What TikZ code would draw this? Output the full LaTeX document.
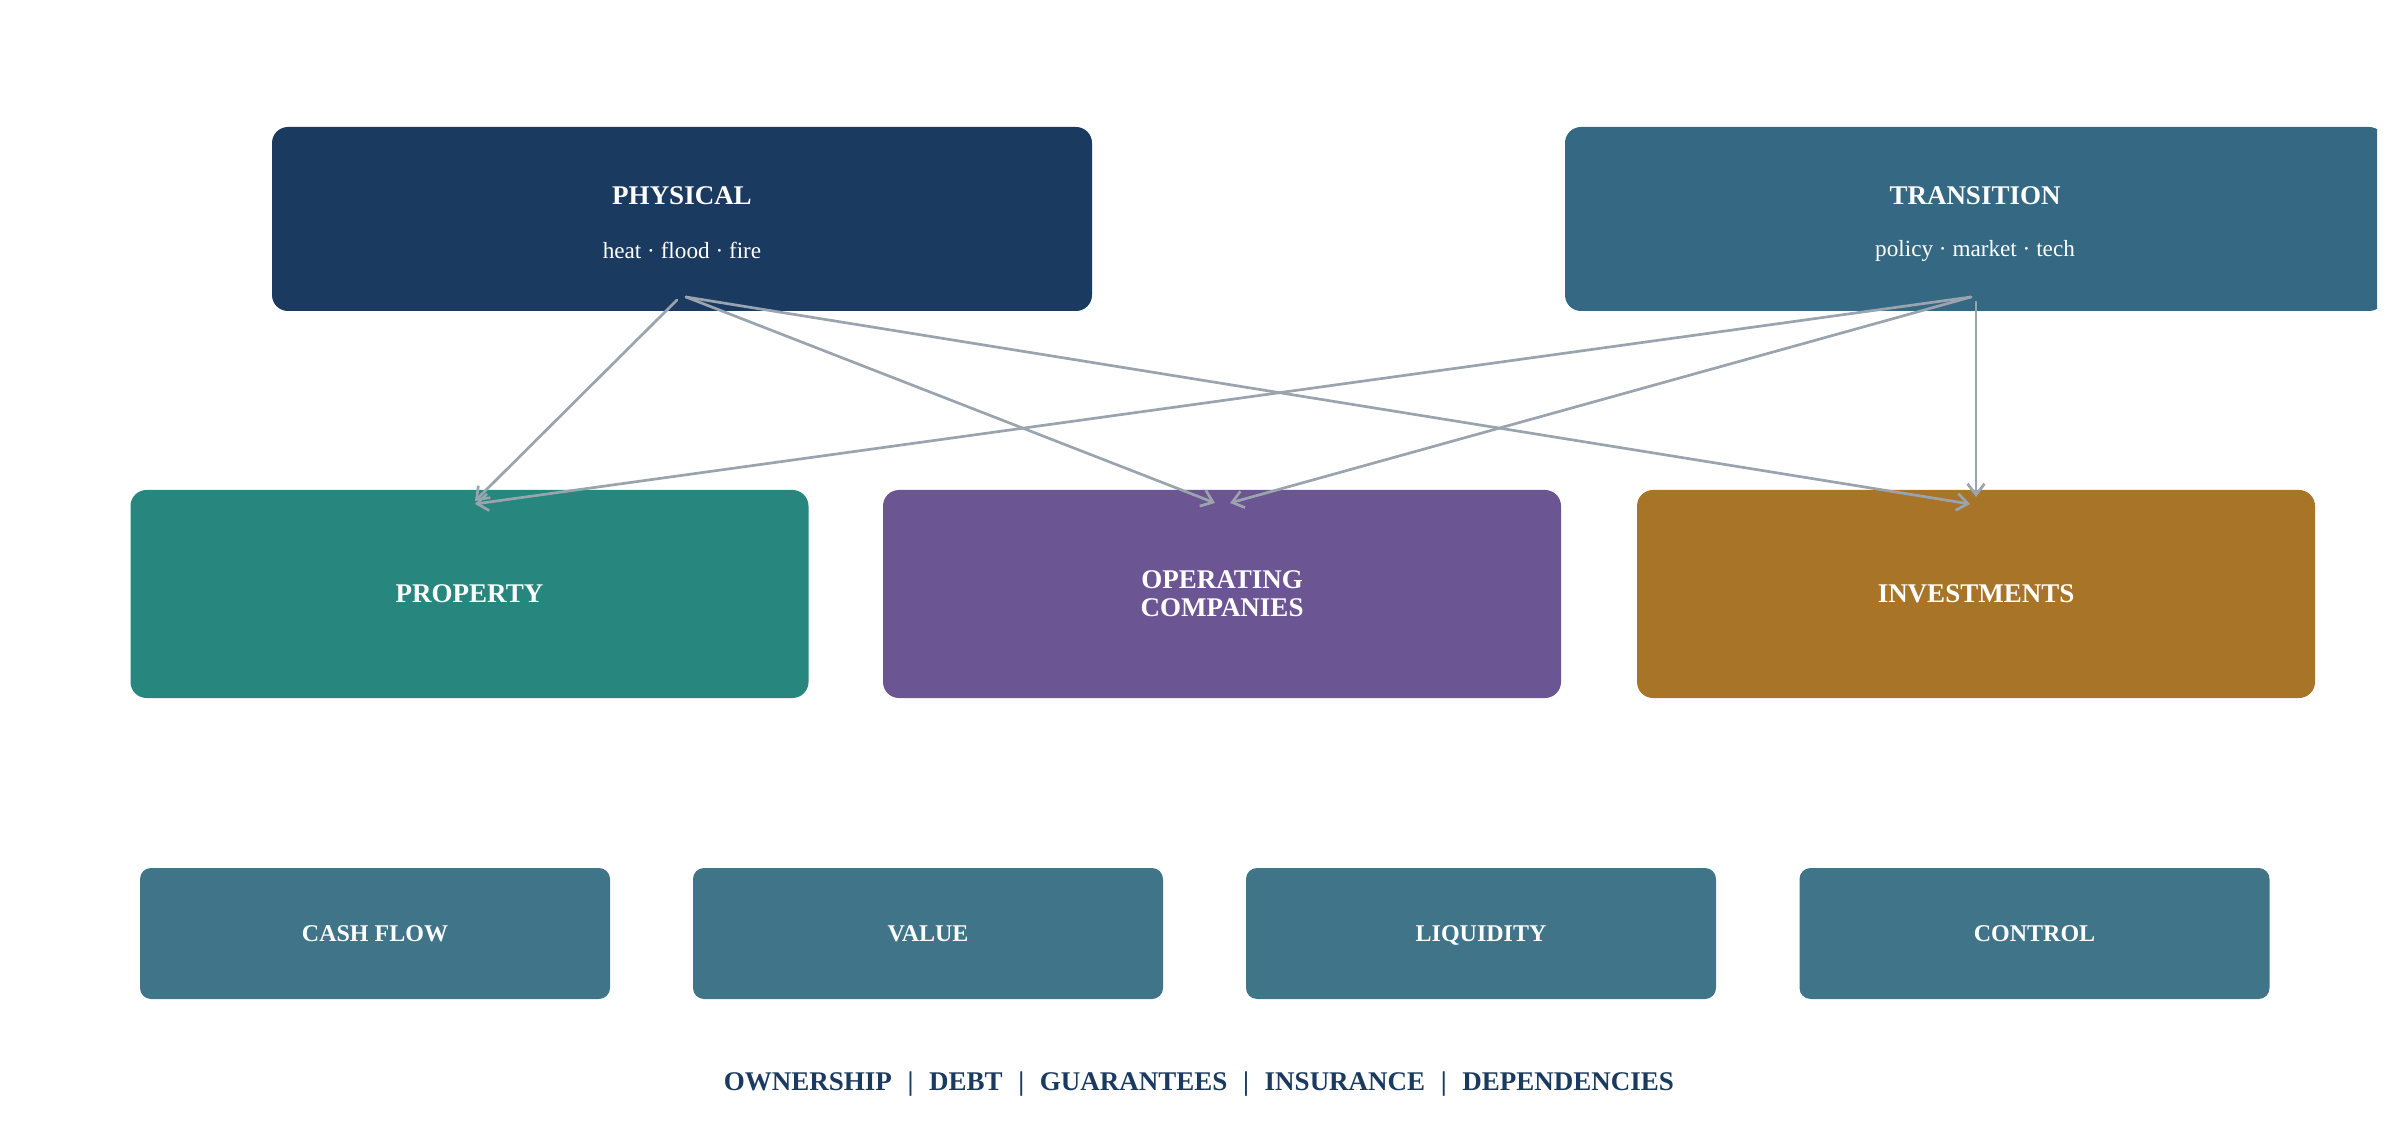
\documentclass[tikz,border=0pt]{standalone}
\usepackage{fontspec}
\setmainfont{Liberation Serif}
\usetikzlibrary{arrows.meta}
\definecolor{navy}{HTML}{1B3A5F}
\definecolor{transc}{HTML}{346883}
\definecolor{propc}{HTML}{27867D}
\definecolor{operc}{HTML}{6B5592}
\definecolor{invc}{HTML}{A77428}
\definecolor{botc}{HTML}{3F7489}
\definecolor{arrowc}{HTML}{9AA4AF}
\tikzset{
  topbox/.style={rounded corners=8pt, minimum width=410pt, minimum height=92pt, inner sep=0pt},
  midbox/.style={rounded corners=8pt, minimum width=339pt, minimum height=104pt, inner sep=0pt,
    text=white, font=\fontsize{13.5}{14}\selectfont\bfseries, align=center},
  botbox/.style={fill=botc, rounded corners=5.5pt, minimum width=235pt, minimum height=65.5pt, inner sep=0pt,
    text=white, font=\fontsize{12}{13}\selectfont\bfseries, text height=8pt, text depth=0pt},
  ttl/.style={text=white, font=\fontsize{13.5}{14}\selectfont\bfseries, inner sep=0pt},
  sub/.style={text=white, font=\fontsize{11.6}{13}\selectfont, inner sep=0pt},
  arr/.style={draw=arrowc, line width=1.35pt, line cap=round, -{Straight Barb[length=5.5pt,width=8.5pt,line width=1.35pt]}}
}
\newcommand{\sepbar}{\hspace{0.58em}|\hspace{0.58em}}
\begin{document}
\begin{tikzpicture}[x=0.5pt, y=-0.5pt]
\useasboundingbox (0,0) rectangle (2397,1143);
% top row
\node[topbox, fill=navy] (phys) at (682,219) {};
\node[ttl] (physT) at (682,195.5) {PHYSICAL};
\node[sub] (physS) at (682,250.5) {heat · flood · fire};
\begin{scope}
\clip (0,0) rectangle (2377,1143);
\node[topbox, fill=transc] (trans) at (1975,219) {};
\end{scope}
\node[ttl] (transT) at (1975,195.5) {TRANSITION};
\node[sub] (transS) at (1975,250.5) {policy · market · tech};
% middle row
\node[midbox, fill=propc] (prop) at (469.5,594) {PROPERTY};
\node[midbox, fill=operc] (oper) at (1222,594) {OPERATING\\COMPANIES};
\node[midbox, fill=invc] (inv) at (1976,594) {INVESTMENTS};
% bottom row
\node[botbox] (cash) at (375,933.5) {CASH FLOW};
\node[botbox] (val) at (928,933.5) {VALUE};
\node[botbox] (liq) at (1481,933.5) {LIQUIDITY};
\node[botbox] (ctrl) at (2034.5,933.5) {CONTROL};
\node[text=navy, font=\fontsize{13.5}{14}\selectfont\bfseries, inner sep=0pt] (links) at (1199,1084)
  {OWNERSHIP\sepbar DEBT\sepbar GUARANTEES\sepbar INSURANCE\sepbar DEPENDENCIES};
% connector points
\coordinate (ps1) at (677,300);
\coordinate (ps2) at (686,297);
\coordinate (ts1) at (1971,297);
\coordinate (ts2) at (1976,302);
\coordinate (pt1) at (475,501);
\coordinate (pt2) at (475,504);
\coordinate (ot1) at (1215,503);
\coordinate (ot2) at (1230,503);
\coordinate (it1) at (1970,504);
\coordinate (it2) at (1976,497);
\draw[arr] (ps1) -- (pt1);
\draw[arr] (ps2) -- (ot1);
\draw[arr] (ps2) -- (it1);
\draw[arr] (ts1) -- (pt2);
\draw[arr] (ts1) -- (ot2);
\draw[arr] (ts2) -- (it2);
\end{tikzpicture}
\end{document}
